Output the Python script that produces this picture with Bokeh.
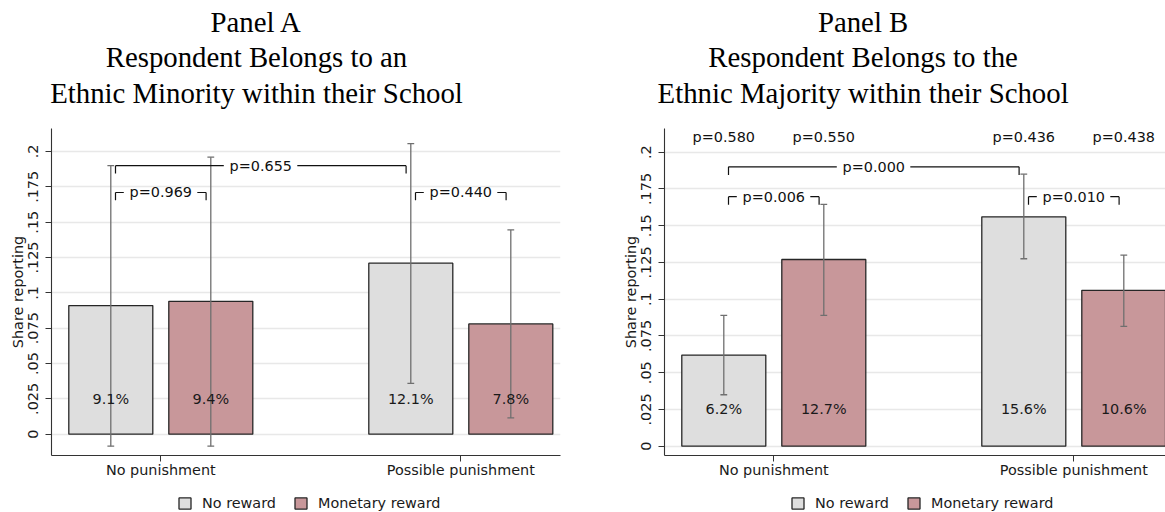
from bokeh.plotting import figure
from bokeh.layouts import row, column
from bokeh.models import Range1d, FixedTicker, Legend, LegendItem, ColumnDataSource
from bokeh.core.properties import value
from bokeh.embed import file_html
from bokeh.resources import INLINE

# ---------------- data ----------------
categories = ["No punishment", "Possible punishment"]
rewards = ["No reward", "Monetary reward"]
y_ticks = [0, 0.025, 0.05, 0.075, 0.1, 0.125, 0.15, 0.175, 0.2]
y_tick_labels = ["0", ".025", ".05", ".075", ".1", ".125", ".15", ".175", ".2"]

# order: (No punishment, No reward), (No punishment, Monetary reward),
#        (Possible punishment, No reward), (Possible punishment, Monetary reward)
a_share = [0.091, 0.094, 0.121, 0.078]
a_ci_low = [-0.0085, -0.0085, 0.036, 0.0115]
a_ci_high = [0.190, 0.196, 0.2055, 0.1445]
a_p_within = ["0.969", "0.440"]
a_p_across = "0.655"
a_p_top = []

b_share = [0.062, 0.127, 0.156, 0.106]
b_ci_low = [0.035, 0.089, 0.1275, 0.0815]
b_ci_high = [0.089, 0.1645, 0.185, 0.130]
b_p_within = ["0.006", "0.010"]
b_p_across = "0.000"
b_p_top = ["0.580", "0.550", "0.436", "0.438"]

titles_a = ["Panel A", "Respondent Belongs to an", "Ethnic Minority within their School"]
titles_b = ["Panel B", "Respondent Belongs to the", "Ethnic Majority within their School"]

# ---------------- style ----------------
FILLS = ["#dedede", "#c8979a"]
OUTLINE = "#262626"
SANS = "DejaVu Sans"
FS = "14.4px"
PX_PER_UNIT = 100.0
TITLE_H = 115
FRAME_H = 327
FRAME_TOP = 13
FRAME_BOTTOM_BORDER = 30
LEGEND_H = 27
BAR_W = 0.84


def blank_fig(width, height, yr):
    f = figure(width=width, height=height, x_range=Range1d(0, width), y_range=yr,
               x_axis_type=None, y_axis_type=None, min_border=0,
               output_backend="svg", toolbar_location=None)
    f.outline_line_color = None
    f.xgrid.visible = False
    f.ygrid.visible = False
    return f


def make_title(width, cx, titles):
    t = blank_fig(width, TITLE_H, Range1d(TITLE_H, 0))
    t.text(x=[cx] * len(titles), y=[21.4, 56.9, 92.1], text=titles,
           text_align="center", text_baseline="alphabetic", text_color="black",
           text_font=value("Liberation Serif"), text_font_size=value("28.8px"))
    return t


def make_legend(width, left):
    f = blank_fig(width, LEGEND_H, Range1d(0, LEGEND_H))
    rs = []
    for r in range(len(rewards)):
        # hidden legend proxy glyph (only its style is used by the legend)
        rr = f.vbar(x=[-5000], top=[-5000], bottom=[-5010], width=1,
                    fill_color=FILLS[r], line_color=OUTLINE, line_width=1.3)
        rr.visible = False
        rs.append(rr)
    legend = Legend(items=[LegendItem(label=rewards[i], renderers=[rs[i]])
                           for i in range(len(rewards))],
                    orientation="horizontal", location=(left, 1.5),
                    glyph_width=15, glyph_height=14, label_standoff=10,
                    spacing=17, padding=0, margin=0, label_height=14,
                    border_line_color=None, background_fill_alpha=0,
                    inactive_fill_alpha=0,
                    label_text_font=SANS, label_text_font_size=FS,
                    label_text_color="#1a1a1a")
    f.add_layout(legend)
    return f


def make_panel(share, lo, hi, p_within, p_across, p_top, y0, y1,
               frame_w, border_l, border_r, bracket_y):
    x0 = 0.407
    x1 = x0 + frame_w / PX_PER_UNIT
    p = figure(frame_width=frame_w, frame_height=FRAME_H,
               min_border_left=border_l, min_border_right=border_r,
               min_border_top=FRAME_TOP, min_border_bottom=FRAME_BOTTOM_BORDER,
               x_range=Range1d(x0, x1), y_range=Range1d(y0, y1),
               output_backend="svg", toolbar_location=None,
               background_fill_color="white", border_fill_color="white")
    p.outline_line_color = None

    xs = [g * 3 + r + 1 for g in range(len(categories)) for r in range(len(rewards))]

    # grid
    p.xgrid.visible = False
    p.ygrid.ticker = FixedTicker(ticks=y_ticks)
    p.ygrid.grid_line_color = "#e8e8e8"
    p.ygrid.grid_line_width = 1.3

    # bars
    for r in range(len(rewards)):
        idx = [g * len(rewards) + r for g in range(len(categories))]
        src = ColumnDataSource(dict(x=[xs[i] for i in idx], top=[share[i] for i in idx]))
        p.vbar(x="x", top="top", bottom=0, width=BAR_W, source=src,
               fill_color=FILLS[r], line_color=OUTLINE, line_width=1.3)

    # error bars
    cap = 0.034
    p.segment(x0=xs, y0=lo, x1=xs, y1=hi, line_color="#6f6f6f", line_width=1.3)
    p.segment(x0=[x - cap for x in xs], y0=hi, x1=[x + cap for x in xs], y1=hi,
              line_color="#6f6f6f", line_width=1.3)
    p.segment(x0=[x - cap for x in xs], y0=lo, x1=[x + cap for x in xs], y1=lo,
              line_color="#6f6f6f", line_width=1.3)

    # bar value labels
    p.text(x=xs, y=[0.025] * len(xs), text=[f"{v * 100:.1f}%" for v in share],
           text_align="center", text_baseline="middle", text_color="#1a1a1a",
           text_font=value(SANS), text_font_size=value(FS))

    # brackets
    inset = 0.047
    half_gap_l, half_gap_r = 0.37, 0.365
    drop = 0.0055
    br = []
    for g in range(len(categories)):
        br.append((xs[g * 2] + inset, xs[g * 2 + 1] - inset, bracket_y[0], "p=" + p_within[g]))
    br.append((xs[0] + inset, xs[2] - inset, bracket_y[1], "p=" + p_across))
    sx0, sy0, sx1, sy1 = [], [], [], []
    tx, ty, tt = [], [], []
    for (a, b, y, t) in br:
        c = (a + b) / 2
        sx0 += [a, a, c + half_gap_r, b]
        sx1 += [c - half_gap_l, a, b, b]
        sy0 += [y, y, y, y]
        sy1 += [y, y - drop, y, y - drop]
        tx.append(c)
        ty.append(y)
        tt.append(t)
    p.segment(x0=sx0, y0=sy0, x1=sx1, y1=sy1, line_color="#111111", line_width=1.2)
    p.text(x=tx, y=ty, text=tt, text_align="center", text_baseline="middle",
           text_color="#111111", text_font=value(SANS), text_font_size=value(FS))

    if p_top:
        p.text(x=xs, y=[0.21] * len(xs), text=["p=" + t for t in p_top],
               text_align="center", text_baseline="middle", text_color="#111111",
               text_font=value(SANS), text_font_size=value(FS))

    # axes
    p.yaxis.ticker = FixedTicker(ticks=y_ticks)
    p.yaxis.major_label_overrides = dict(zip(y_ticks, y_tick_labels))
    p.yaxis.major_label_orientation = "vertical"
    p.yaxis.axis_label = "Share reporting"
    p.yaxis.axis_label_text_font_style = "normal"
    p.yaxis.axis_label_standoff = 0
    p.yaxis.major_label_standoff = 7

    p.xaxis.ticker = FixedTicker(ticks=[1.5, 4.5])
    p.xaxis.major_label_overrides = {1.5: categories[0], 4.5: categories[1]}
    p.xaxis.major_label_standoff = 0

    for ax in (p.xaxis[0], p.yaxis[0]):
        ax.axis_line_color = "#333333"
        ax.axis_line_width = 1.1
        ax.major_tick_line_color = "#333333"
        ax.major_tick_out = 6
        ax.major_tick_in = 0
        ax.minor_tick_line_color = None
        ax.major_label_text_font = SANS
        ax.major_label_text_font_size = FS
        ax.major_label_text_color = "#1a1a1a"
        ax.axis_label_text_font = SANS
        ax.axis_label_text_font_size = FS
        ax.axis_label_text_color = "#1a1a1a"
    return p


p1 = make_panel(a_share, a_ci_low, a_ci_high, a_p_within, a_p_across, a_p_top,
                -0.01507, 0.21627, 509, 51, 48, (0.171, 0.190))
p2 = make_panel(b_share, b_ci_low, b_ci_high, b_p_within, b_p_across, b_p_top,
                -0.00633, 0.2161, 501, 56, 0, (0.1697, 0.190))

t1 = make_title(608, 256, titles_a)
t2 = make_title(557, 862.6 - 608, titles_b)
l1 = make_legend(608, 177)
l2 = make_legend(557, 790 - 608)

layout = column(row(t1, t2), row(p1, p2), row(l1, l2))
open("out.html", "w").write(file_html(layout, INLINE))
